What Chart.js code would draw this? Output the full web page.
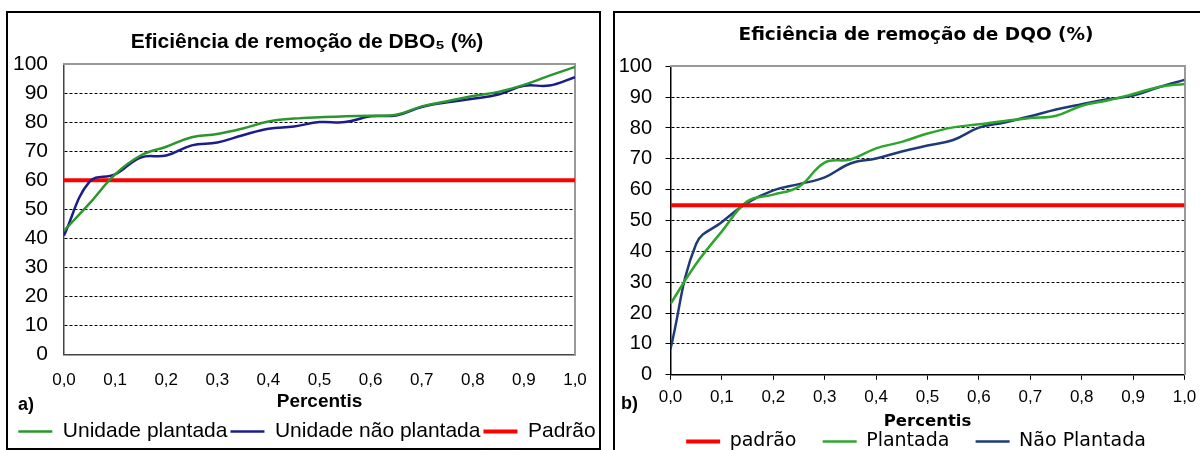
<!DOCTYPE html>
<html><head><meta charset="utf-8">
<script src="https://cdn.jsdelivr.net/npm/chart.js@4.4.1/dist/chart.umd.min.js"></script>
<style>
html,body{margin:0;padding:0;background:#fff;width:1200px;height:450px;overflow:hidden;position:relative;}
#cL{position:absolute;left:0;top:0;}
#cR{position:absolute;left:606px;top:0;}
.box{position:absolute;border:2px solid #000;pointer-events:none;z-index:5;box-sizing:border-box;}
.lab{position:absolute;font-weight:bold;color:#000;z-index:6;line-height:1;}
</style></head>
<body>
<canvas id="cL" width="606" height="452"></canvas>
<canvas id="cR" width="612" height="461"></canvas>
<div class="box" style="left:6px;top:11px;width:595px;height:439px;"></div>
<div class="box" style="left:613px;top:11px;width:600px;height:460px;"></div>
<div class="lab" style="left:18px;top:395px;font-family:'Liberation Sans',Arial,sans-serif;font-size:18px;">a)</div>
<div class="lab" style="left:621px;top:394px;font-family:'Liberation Sans',Arial,sans-serif;font-size:18px;">b)</div>
<script>
// ---- data ----
const percentis = [0, 0.05, 0.1, 0.15, 0.2, 0.25, 0.3, 0.35, 0.4, 0.45, 0.5, 0.55, 0.6, 0.65, 0.7, 0.75, 0.8, 0.85, 0.9, 0.95, 1.0];
const xTickLabels = ['0,0','0,1','0,2','0,3','0,4','0,5','0,6','0,7','0,8','0,9','1,0'];
const padraoX = [0, 1.0];

// a) DBO5
const dboPlantada    = [42.6, 52, 62, 68.5, 71.5, 74.8, 75.9, 77.8, 80.2, 81.2, 81.7, 82, 82.2, 82.5, 85.4, 87.2, 89, 90.4, 92.8, 96, 99];
const dboNaoPlantada = [41, 59.5, 62, 67.8, 68.5, 72, 73, 75.5, 77.7, 78.5, 80, 80, 82, 82.3, 85.2, 86.8, 88, 89.5, 92.5, 92.6, 95.5];
const dboPadrao      = [60, 60];

// b) DQO
const dqoPadrao      = [55, 55];
const dqoPlantada    = [23, 36, 46.5, 56.3, 58.4, 61, 68.8, 69.8, 73.4, 75.5, 78.2, 80.2, 81.2, 82.3, 83.2, 84, 87.2, 88.9, 91, 93.3, 94.3];
const dqoNaoPlantada = [8.4, 42.5, 49.5, 55.8, 59.8, 61.8, 64, 68.5, 70.1, 72.4, 74.3, 76.1, 80.1, 81.8, 83.8, 86, 87.7, 89.3, 90.5, 93.2, 95.6];

const toXY = (xs, ys) => ys.map((y, i) => ({x: xs[i], y: y}));
const xTick = v => xTickLabels[Math.round(v * 10)];

const ARIAL = "'Liberation Sans', Arial, sans-serif";
const GOTHIC = "'DejaVu Sans', sans-serif";

function lineDs(label, data, color, width, tension) {
  return {label, data, borderColor: color, backgroundColor: color,
    pointBorderColor: color, pointBackgroundColor: color, pointBorderWidth: width,
    borderWidth: width, pointRadius: 0, pointHoverRadius: 0, tension: tension, fill: false};
}

// ---- chart a ----
new Chart(document.getElementById('cL'), {
  type: 'line',
  data: {datasets: [
    lineDs('Unidade plantada', toXY(percentis, dboPlantada), '#2b962b', 2.5, 0.4),
    lineDs('Unidade não plantada', toXY(percentis, dboNaoPlantada), '#1c1c8c', 2.5, 0.4),
    lineDs('Padrão', toXY(padraoX, dboPadrao), '#ff0000', 4, 0)
  ]},
  options: {
    responsive: false, animation: false, events: [],
    layout: {padding: {left: 8, right: 0, top: 0, bottom: 0}},
    plugins: {
      title: {display: true, text: 'Eficiência de remoção de DBO₅ (%)', color: '#000',
        font: {family: ARIAL, size: 21, weight: 'bold'}, padding: {top: 29.4, bottom: 9.4}},
      legend: {position: 'bottom', labels: {usePointStyle: true, pointStyle: 'line', pointStyleWidth: 34,
        color: '#000', font: {family: ARIAL, size: 21}, padding: 3}},
      tooltip: {enabled: false}
    },
    scales: {
      x: {type: 'linear', position: 'bottom', min: 0, max: 1,
        ticks: {stepSize: 0.1, autoSkip: false, maxRotation: 0, callback: xTick, color: '#000',
          font: {family: ARIAL, size: 17}, padding: 16},
        grid: {display: false, drawTicks: false}, border: {color: '#444', width: 1.5},
        title: {display: true, text: 'Percentis', color: '#000', font: {family: ARIAL, size: 19, weight: 'bold'},
          padding: {top: 0, bottom: 5}},
        afterFit(s) { s.height = 63.5; }},
      y: {min: 0, max: 100,
        ticks: {stepSize: 10, color: '#000', font: {family: ARIAL, size: 21}, padding: 16},
        grid: {color: '#000', lineWidth: 1, drawTicks: false},
        border: {dash: [3, 2], color: '#444', width: 1.5},
        afterFit(s) { s.width = 56; }},
      xTop: {type: 'linear', position: 'top', min: 0, max: 1, ticks: {display: false},
        grid: {display: false, drawTicks: false}, border: {color: '#999', width: 2}, afterFit(s) { s.height = 0; }},
      yRight: {type: 'linear', position: 'right', min: 0, max: 100, ticks: {display: false},
        grid: {display: false, drawTicks: false}, border: {color: '#999', width: 2}, afterFit(s) { s.width = 31; }}
    }
  }
});

// ---- chart b ----
new Chart(document.getElementById('cR'), {
  type: 'line',
  data: {datasets: [
    lineDs('padrão', toXY(padraoX, dqoPadrao), '#ff0000', 4, 0),
    lineDs('Plantada', toXY(percentis, dqoPlantada), '#2ea62e', 2.5, 0.4),
    lineDs('Não Plantada', toXY(percentis, dqoNaoPlantada), '#1f3a78', 2.5, 0.4)
  ]},
  options: {
    responsive: false, animation: false, events: [],
    layout: {padding: {left: 8, right: 0, top: 0, bottom: 0}},
    plugins: {
      title: {display: true, text: 'Eficiência de remoção de DQO (%)', color: '#000',
        font: {family: GOTHIC, size: 18.5, weight: 'bold'}, padding: {top: 23.9, bottom: 20.2}},
      legend: {position: 'bottom', labels: {usePointStyle: true, pointStyle: 'line', pointStyleWidth: 34,
        color: '#000', font: {family: GOTHIC, size: 19}, padding: 26.2}},
      tooltip: {enabled: false}
    },
    scales: {
      x: {type: 'linear', position: 'bottom', min: 0, max: 1,
        ticks: {stepSize: 0.1, autoSkip: false, maxRotation: 0, callback: xTick, color: '#000',
          font: {family: ARIAL, size: 17}, padding: 7},
        grid: {drawOnChartArea: false, drawTicks: true, tickLength: 5, color: '#000', tickColor: '#000'},
        border: {color: '#000', width: 1.5},
        title: {display: true, text: 'Percentis', color: '#000', font: {family: GOTHIC, size: 16.5, weight: 'bold'},
          padding: {top: 0, bottom: -25.6}},
        afterFit(s) { s.height = 31; }},
      y: {min: 0, max: 100,
        ticks: {stepSize: 10, color: '#000', font: {family: ARIAL, size: 20}, padding: 13.5},
        grid: {color: '#000', lineWidth: 1, drawTicks: true, tickLength: 5, tickColor: '#000', tickBorderDash: []},
        border: {dash: [3, 2], color: '#000', width: 1.5},
        afterFit(s) { s.width = 56.5; }},
      xTop: {type: 'linear', position: 'top', min: 0, max: 1, ticks: {display: false},
        grid: {display: false, drawTicks: false}, border: {color: '#999', width: 2}, afterFit(s) { s.height = 0; }},
      yRight: {type: 'linear', position: 'right', min: 0, max: 100, ticks: {display: false},
        grid: {display: false, drawTicks: false}, border: {color: '#999', width: 2}, afterFit(s) { s.width = 33.5; }}
    }
  }
});
</script>
</body></html>
